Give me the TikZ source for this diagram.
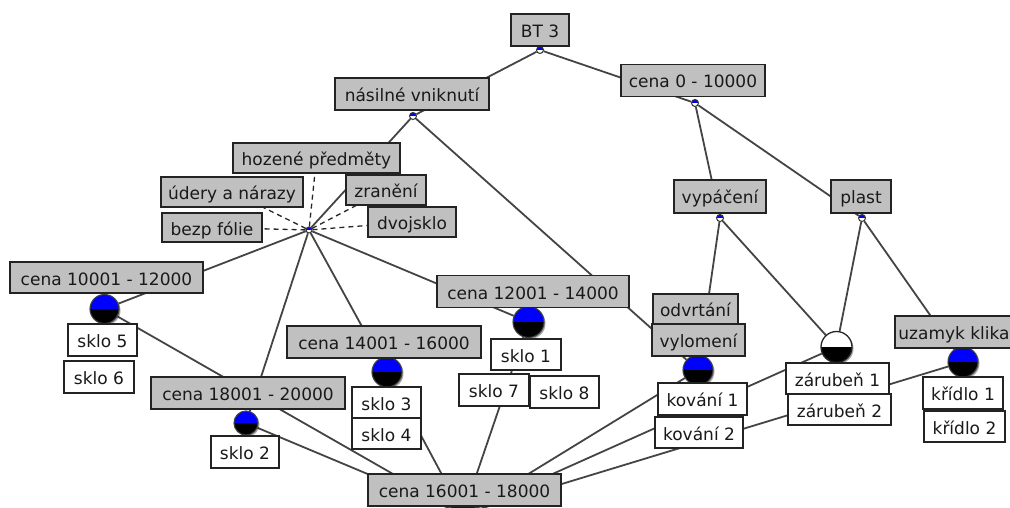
\documentclass[tikz,border=0pt]{standalone}
\usepackage{fontspec}
\setmainfont{DejaVu Sans}
\usetikzlibrary{shadows}
\pgfdeclarelayer{background}
\pgfsetlayers{background,main}
\definecolor{boxgray}{RGB}{192,192,192}
\definecolor{edgecol}{RGB}{68,68,68}
\definecolor{framecol}{RGB}{35,35,35}
\definecolor{txtcol}{RGB}{25,25,25}
\definecolor{conceptblue}{RGB}{0,0,255}

\tikzset{
  lbl/.style={draw=framecol, line width=1.2pt, rectangle, inner sep=0pt,
    text=txtcol, font=\fontsize{17pt}{20pt}\selectfont,
    text height=15pt, text depth=0pt, minimum height=31pt},
  attr/.style={lbl, fill=boxgray, minimum width=#1},
  obj/.style={lbl, fill=white, minimum width=#1},
  conn/.style={draw=edgecol, line width=1.8pt},
  link/.style={draw=black!85, line width=1.3pt, dash pattern=on 5pt off 4pt},
  concept/.style={circle, inner sep=0pt, minimum size=#1, draw=black!75, line width=1.1pt,
    drop shadow={shadow xshift=1.5pt, shadow yshift=-1.5pt, opacity=0.35, fill=black},
    path picture={
      \fill[conceptblue] (path picture bounding box.north west) rectangle (path picture bounding box.east);
      \fill[black] (path picture bounding box.west) rectangle (path picture bounding box.south east);}},
  openconcept/.style={circle, inner sep=0pt, minimum size=#1, draw=black!85, line width=1.3pt,
    drop shadow={shadow xshift=1.5pt, shadow yshift=-1.5pt, opacity=0.35, fill=black},
    path picture={
      \fill[white] (path picture bounding box.north west) rectangle (path picture bounding box.east);
      \fill[black] (path picture bounding box.west) rectangle (path picture bounding box.south east);}},
  minor/.style={circle, inner sep=0pt, minimum size=#1, draw=black!80, line width=1pt,
    path picture={
      \fill[conceptblue] (path picture bounding box.north west) rectangle (path picture bounding box.east);
      \fill[white] (path picture bounding box.west) rectangle (path picture bounding box.south east);}},
}

\begin{document}
\begin{tikzpicture}[x=1pt,y=-1pt]
\useasboundingbox (0,0) rectangle (1010,508);

% concept points of the lattice
\node[minor=7pt] (btc) at (540,50) {};
\node[minor=7pt] (nvc) at (413,116) {};
\node[minor=7pt] (c0c) at (695,103) {};
\node[minor=7pt] (vyc) at (720,218) {};
\node[minor=7pt] (plc) at (862,218) {};
\node[minor=6pt] (star) at (309,230) {};
\node[concept=29pt] (c1c) at (104.5,309) {};
\node[concept=24pt] (c5c) at (246,423) {};
\node[concept=30pt] (c3c) at (387,372) {};
\node[concept=31pt] (c2c) at (528.5,322) {};
\node[concept=30pt] (vlc) at (698,370) {};
\node[openconcept=31pt] (zc) at (836.5,347) {};
\node[concept=30pt] (ukc) at (963,362) {};
\node[concept=28pt] (bot) at (463,514) {};

% attribute labels
\node[attr=58pt, minimum height=32pt] (bt) at (540,30) {BT 3};
\node[attr=154pt, minimum height=32pt] (nv) at (412,94) {násilné vniknutí};
\node[attr=144pt, minimum height=32pt] (c0) at (693,80.5) {cena 0 - 10000};
\node[attr=167pt, minimum height=30pt] (hp) at (316.5,158) {hozené předměty};
\node[attr=142pt, minimum height=30pt] (un) at (232,192) {údery a nárazy};
\node[attr=80pt, minimum height=30pt] (zr) at (386,190) {zranění};
\node[attr=100pt, minimum height=29pt] (bf) at (212,227.5) {bezp fólie};
\node[attr=88pt, minimum height=30pt] (dv) at (412,222) {dvojsklo};
\node[attr=92pt, minimum height=33pt] (vy) at (720,196.5) {vypáčení};
\node[attr=60pt, minimum height=33pt] (pl) at (861,196.5) {plast};
\node[attr=193pt] (c1) at (106.5,277.5) {cena 10001 - 12000};
\node[attr=192pt, minimum height=32pt] (c2) at (533,291.5) {cena 12001 - 14000};
\node[attr=194pt, minimum height=32pt] (c3) at (384,342) {cena 14001 - 16000};
\node[attr=194pt, minimum height=32pt] (c5) at (248,393) {cena 18001 - 20000};
\node[attr=193pt, minimum height=32pt] (c4) at (464.5,490) {cena 16001 - 18000};
\node[attr=85pt, minimum height=30pt] (od) at (695.5,309) {odvrtání};
\node[attr=93pt, minimum height=32pt] (vl) at (698.5,340) {vylomení};
\node[attr=118pt, minimum height=32pt] (uk) at (954,332) {uzamyk klika};

% object labels
\node[obj=69pt, minimum height=32pt] (s5) at (102.5,340) {sklo 5};
\node[obj=70pt, minimum height=32pt] (s6) at (99,377) {sklo 6};
\node[obj=70pt] (s1) at (526,354.5) {sklo 1};
\node[obj=70pt, minimum height=32pt] (s7) at (494,390) {sklo 7};
\node[obj=69pt, minimum height=32pt] (s8) at (564.5,392) {sklo 8};
\node[obj=69pt] (s3) at (386.5,402.5) {sklo 3};
\node[obj=69pt] (s4) at (386.5,433.5) {sklo 4};
\node[obj=68pt, minimum height=32pt] (s2) at (245,452) {sklo 2};
\node[obj=89pt, minimum height=32pt] (k1) at (702.5,399) {kování 1};
\node[obj=88pt] (k2) at (699,432.5) {kování 2};
\node[obj=103pt] (z1) at (837.5,378.5) {zárubeň 1};
\node[obj=103pt] (z2) at (839.5,409.5) {zárubeň 2};
\node[obj=80pt, minimum height=32pt] (kr1) at (963,393) {křídlo 1};
\node[obj=81pt] (kr2) at (964.5,426.5) {křídlo 2};

\begin{pgfonlayer}{background}
  % lattice edges
  \draw[conn] (btc) -- (nvc);
  \draw[conn] (btc) -- (c0c);
  \draw[conn] (nvc) -- (star);
  \draw[conn] (nvc) -- (vlc);
  \draw[conn] (c0c) -- (vyc);
  \draw[conn] (c0c) -- (plc);
  \draw[conn] (vyc) -- (vlc);
  \draw[conn] (vyc) -- (zc);
  \draw[conn] (plc) -- (zc);
  \draw[conn] (plc) -- (ukc);
  \draw[conn] (star) -- (c1c);
  \draw[conn] (star) -- (c5c);
  \draw[conn] (star) -- (c3c);
  \draw[conn] (star) -- (c2c);
  \draw[conn] (c1c) -- (bot);
  \draw[conn] (c5c) -- (bot);
  \draw[conn] (c3c) -- (bot);
  \draw[conn] (c2c) -- (bot);
  \draw[conn] (vlc) -- (bot);
  \draw[conn] (zc) -- (bot);
  \draw[conn] (ukc) -- (bot);
  % dashed leaders to the labels of the shared concept
  \draw[link] (star) -- (hp);
  \draw[link] (star) -- (un);
  \draw[link] (star) -- (zr);
  \draw[link] (star) -- (bf);
  \draw[link] (star) -- (dv);
\end{pgfonlayer}
\end{tikzpicture}
\end{document}
